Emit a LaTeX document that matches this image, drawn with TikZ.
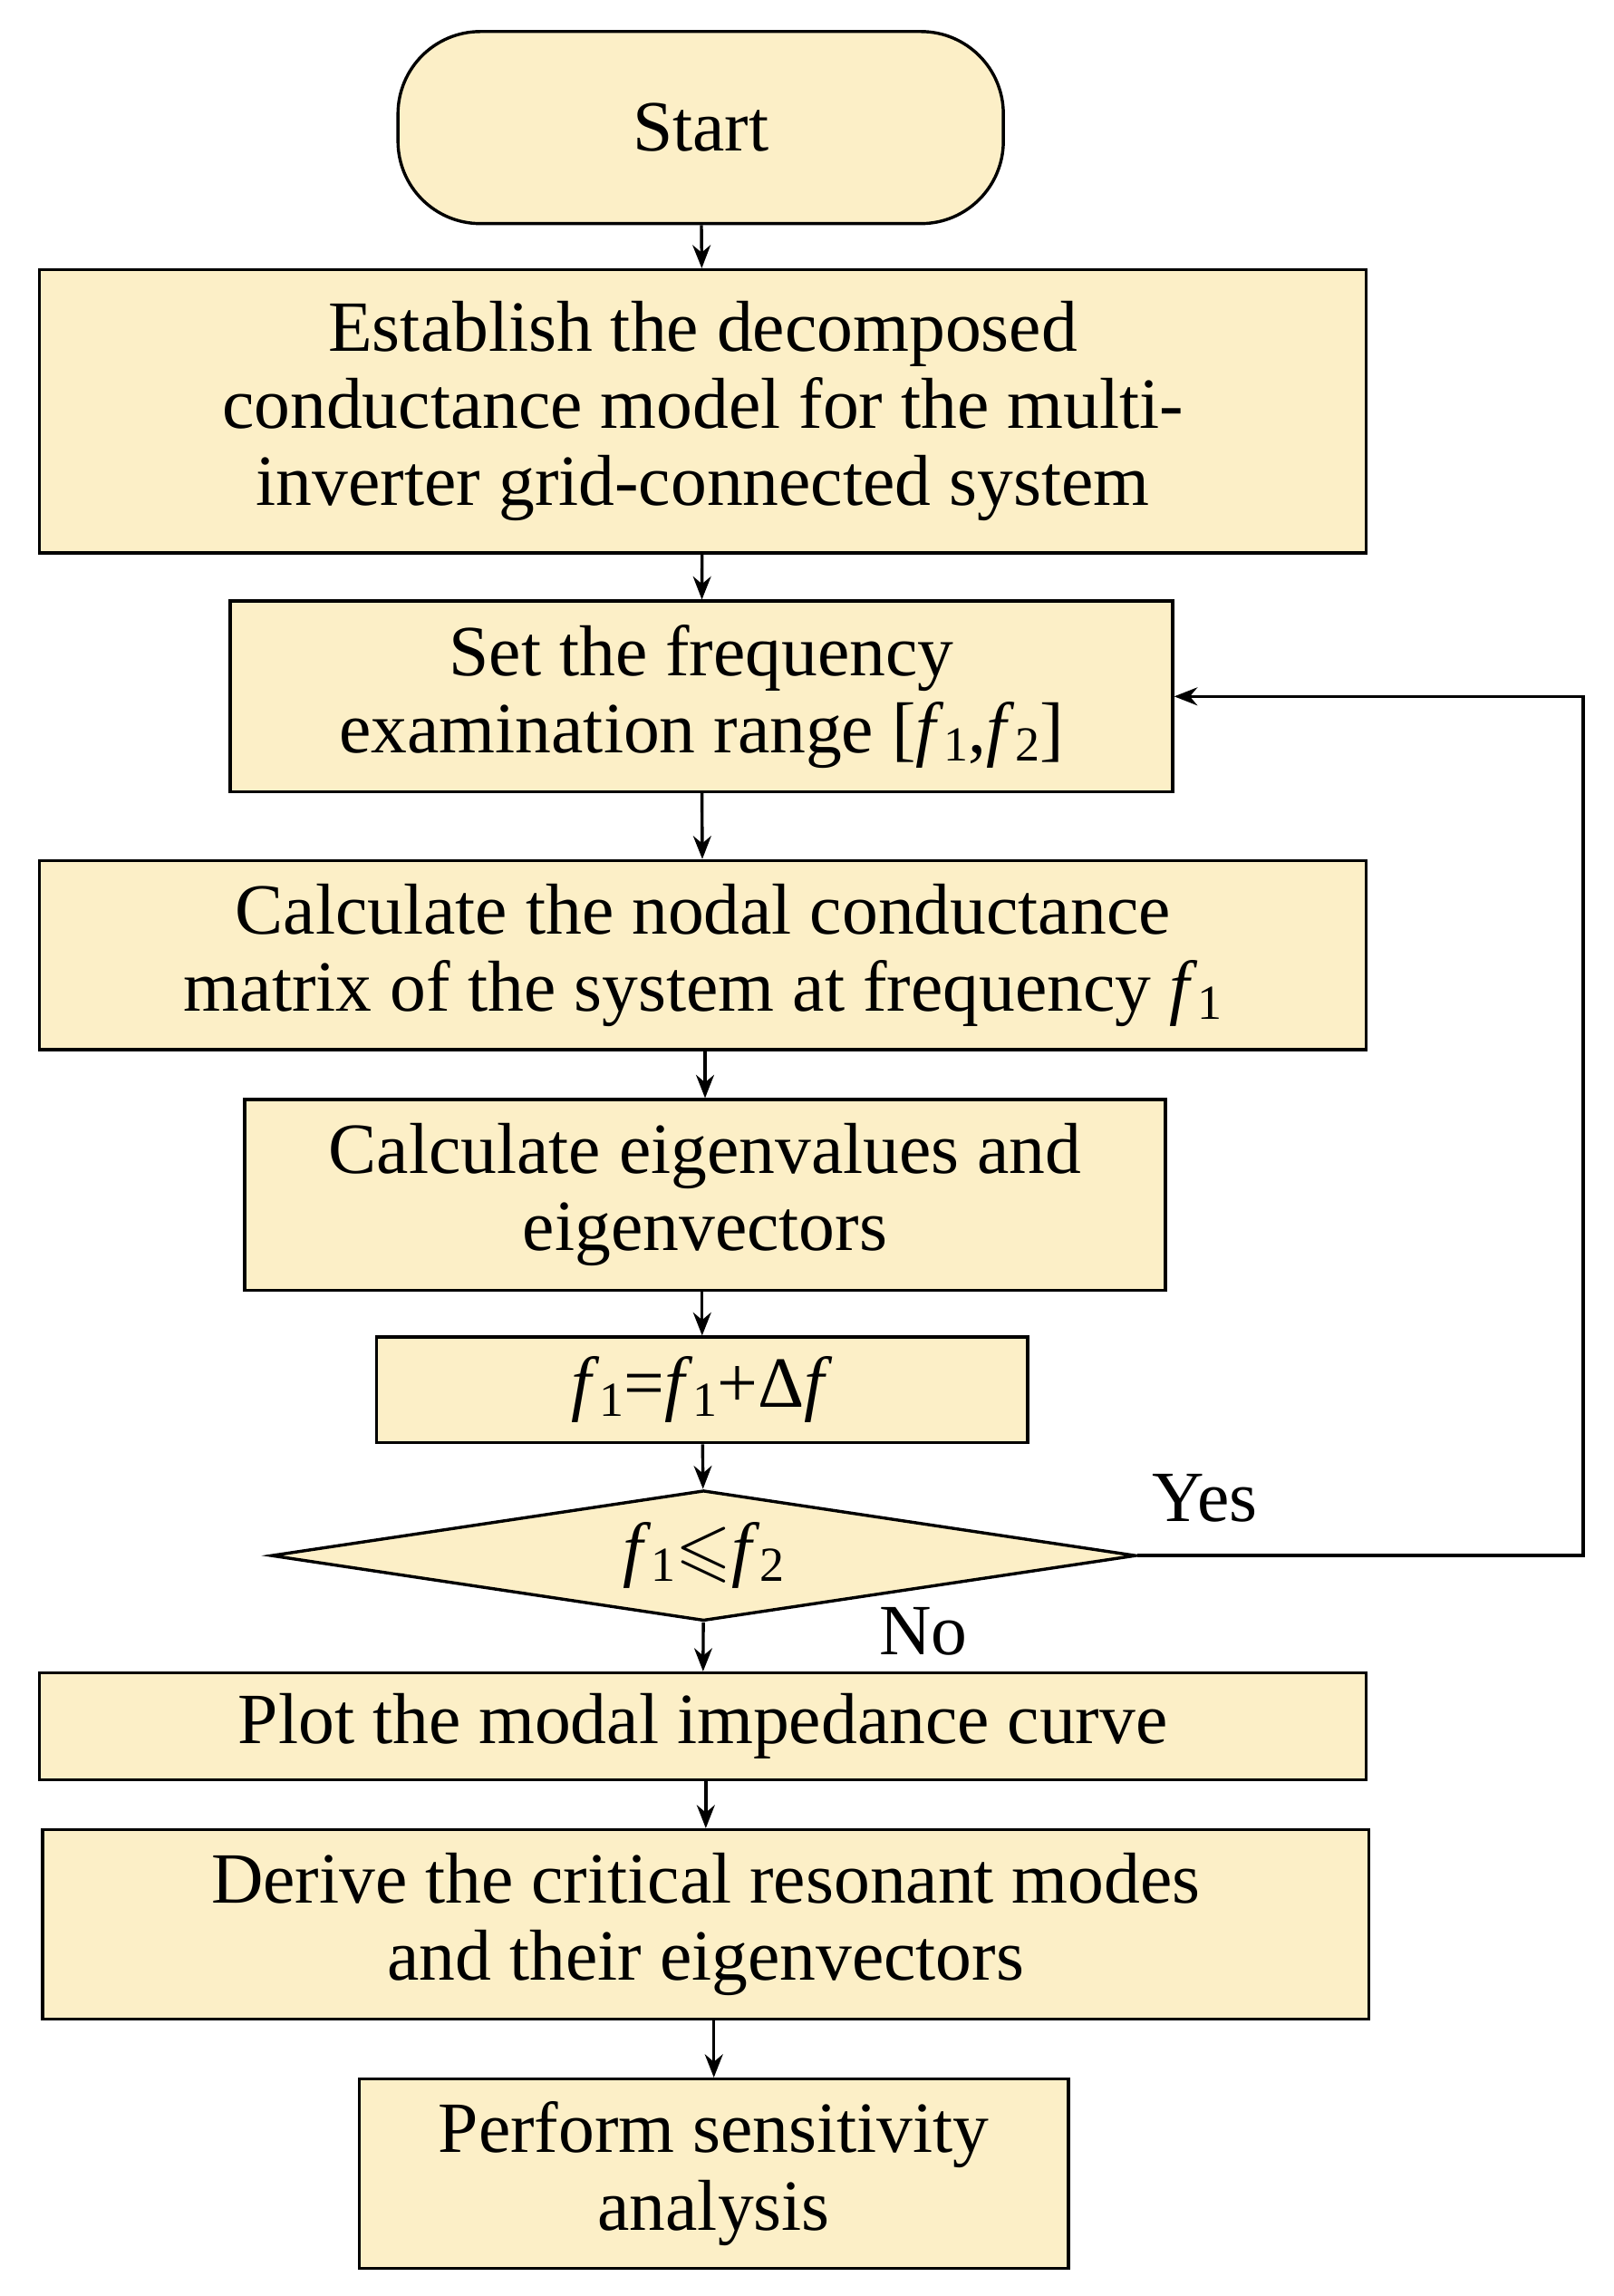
\documentclass[tikz,border=0pt]{standalone}
\usepackage{fontspec}
\usepackage{amssymb}
\setmainfont{Liberation Serif}
\usetikzlibrary{shapes.geometric,arrows.meta}
\definecolor{bx}{HTML}{FCEFC7}
\newcommand{\fsub}[1]{\textit{f}\raisebox{-0.25ex}{\fontsize{19}{19}\selectfont #1}}
\begin{document}
\begin{tikzpicture}[x=0.02cm,y=-0.02cm,
  box/.style={draw,line width=1.2pt,fill=bx,align=center,inner sep=0pt,font=\fontsize{28}{30}\selectfont},
  arr/.style={-{Stealth[length=9pt,width=7pt]},line width=1.2pt}]
\useasboundingbox (0,0) rectangle (1101,1566);
\node[box,rounded corners=65\pgflinewidth*0+32pt,minimum width=413*0.02cm,minimum height=131*0.02cm] (s) at (478,87) {Start};
\node[box,minimum width=905*0.02cm,minimum height=193*0.02cm] (b1) at (479.5,280.5) {Establish the decomposed\\conductance model for the multi-\\inverter grid-connected system};
\node[box,minimum width=643*0.02cm,minimum height=130*0.02cm] (b2) at (478.5,475) {Set the frequency\\examination range [\fsub{1},\fsub{2}]};
\node[box,minimum width=905*0.02cm,minimum height=129*0.02cm] (b3) at (479.5,651.5) {Calculate the nodal conductance\\matrix of the system at frequency \fsub{1}};
\node[box,minimum width=628*0.02cm,minimum height=130*0.02cm] (b4) at (481,815) {Calculate eigenvalues and\\eigenvectors};
\node[box,minimum width=444*0.02cm,minimum height=72*0.02cm] (b5) at (479,948) {\fsub{1}=\fsub{1}+Δ\textit{f}};
\node[box,diamond,aspect=6.6,minimum width=590*0.02cm,minimum height=89*0.02cm] (d) at (480,1061) {\fsub{1}$\leqslant$\fsub{2}};
\node[box,minimum width=905*0.02cm,minimum height=73*0.02cm] (b6) at (479.5,1177.5) {Plot the modal impedance curve};
\node[box,minimum width=905*0.02cm,minimum height=129*0.02cm] (b7) at (481.5,1312.5) {Derive the critical resonant modes\\and their eigenvectors};
\node[box,minimum width=484*0.02cm,minimum height=129*0.02cm] (b8) at (487,1482.5) {Perform sensitivity\\analysis};
\draw[arr] (s) -- (b1);
\draw[arr] (b1) -- (b2);
\draw[arr] (b2) -- (b3);
\draw[arr] (b3.south -| b4) -- (b4);
\draw[arr] (b4.south -| b5) -- (b5);
\draw[arr] (b5) -- (d);
\draw[arr] (d) -- (b6);
\draw[arr] (b6.south -| b7) -- (b7);
\draw[arr] (b7.south -| b8) -- (b8);
\coordinate (c1) at (1080,1061);
\coordinate (c2) at (1080,475);
\draw[arr] (d.east) -- (c1) -- (c2) -- (b2.east);
\node[font=\fontsize{28}{30}\selectfont] (yes) at (822,1022) {Yes};
\node[font=\fontsize{28}{30}\selectfont] (no) at (630,1113) {No};
\end{tikzpicture}
\end{document}
